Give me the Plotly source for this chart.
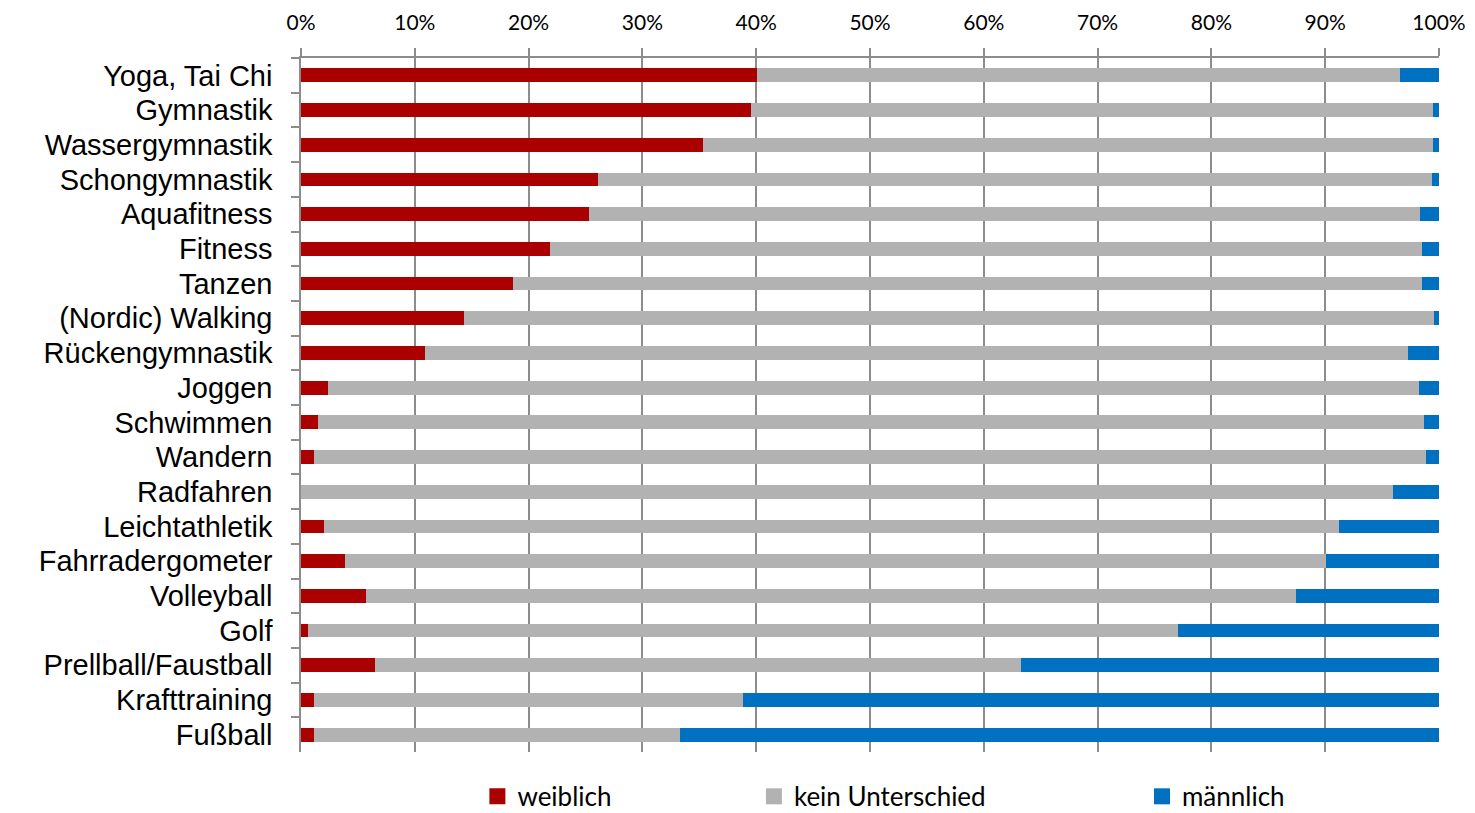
import plotly.graph_objects as go

categories = ["Yoga, Tai Chi", "Gymnastik", "Wassergymnastik", "Schongymnastik",
              "Aquafitness", "Fitness", "Tanzen", "(Nordic) Walking",
              "Rückengymnastik", "Joggen", "Schwimmen", "Wandern", "Radfahren",
              "Leichtathletik", "Fahrradergometer", "Volleyball", "Golf",
              "Prellball/Faustball", "Krafttraining", "Fußball"]
weiblich = [40.1, 39.5, 35.3, 26.1, 25.3, 21.9, 18.6, 14.3, 10.9, 2.4, 1.5, 1.1, 0.0,
            2.0, 3.9, 5.7, 0.6, 6.5, 1.1, 1.1]
maennlich = [3.4, 0.5, 0.5, 0.6, 1.7, 1.5, 1.5, 0.4, 2.7, 1.8, 1.3, 1.1, 4.0,
             8.8, 9.9, 12.6, 22.9, 36.7, 61.2, 66.7]
kein = [round(100 - w - m, 1) for w, m in zip(weiblich, maennlich)]

series_names = ["weiblich", "kein Unterschied", "männlich"]
series_values = [weiblich, kein, maennlich]
colors = ["#AA0000", "#B2B2B2", "#0070C0"]
legend_ids = ["legend", "legend2", "legend3"]

fig = go.Figure()
for name, vals, col in zip(series_names, series_values, colors):
    fig.add_trace(go.Bar(y=categories, x=vals, orientation="h", name=name,
                         marker=dict(color=col, line=dict(width=0)),
                         showlegend=False))
for name, col, lid in zip(series_names, colors, legend_ids):
    fig.add_trace(go.Scatter(x=[None], y=[None], mode="markers", name=name,
                             marker=dict(symbol="square", size=18, color=col),
                             legend=lid, showlegend=True))

legend_font = dict(family="Lato, Open Sans, sans-serif", size=26, color="#000000")
leg_common = dict(y=-0.064, xanchor="left", yanchor="middle", font=legend_font,
                  bgcolor="rgba(0,0,0,0)", itemsizing="trace")
fig.update_layout(
    barmode="stack",
    bargap=0.6,
    width=1475, height=813,
    margin=dict(l=301, r=36, t=58, b=61, autoexpand=False),
    plot_bgcolor="white", paper_bgcolor="white",
    legend=dict(x=0.155, **leg_common),
    legend2=dict(x=0.398, **leg_common),
    legend3=dict(x=0.739, **leg_common),
    xaxis=dict(side="top", range=[0, 100], dtick=10, ticksuffix="%",
               showgrid=True, gridcolor="#8C8C8C", gridwidth=1.5,
               showline=True, linecolor="#8C8C8C", linewidth=1.5,
               ticks="outside", ticklen=8, tickcolor="#8C8C8C", tickwidth=1.5,
               tickfont=dict(family="Lato, Open Sans, sans-serif", size=21, color="#000000"),
               ticklabelstandoff=10, zeroline=False),
    yaxis=dict(autorange="reversed", showline=True, linecolor="#8C8C8C", linewidth=1.5,
               ticks="outside", ticklen=8, tickcolor="#8C8C8C", tickwidth=1.5,
               tickmode="linear", tick0=0, dtick=1,
               tickson="boundaries", showgrid=False,
               tickfont=dict(family="Liberation Sans, Arial, sans-serif", size=29, color="#000000"),
               ticklabelstandoff=21),
)

fig.write_html("out.html")
